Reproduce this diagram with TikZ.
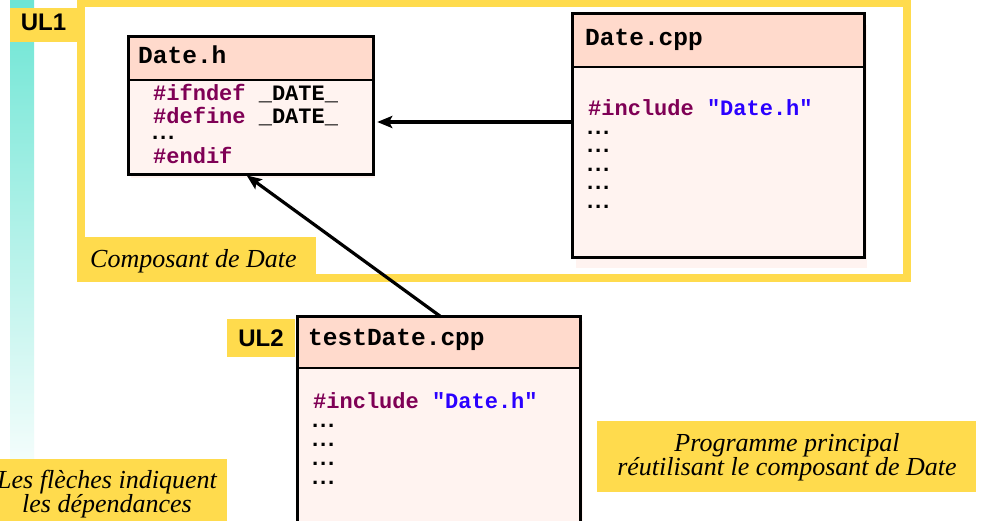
\documentclass[tikz,border=0pt]{standalone}
\usepackage{fontspec}
\setmainfont{Liberation Serif}
\newfontfamily\codefont{Liberation Mono}
\newfontfamily\labelfont{Liberation Sans}
\usetikzlibrary{arrows.meta}

\definecolor{ulyellow}{RGB}{255,219,77}
\definecolor{barteal}{RGB}{108,229,212}
\definecolor{headfill}{RGB}{255,218,204}
\definecolor{bodyfill}{RGB}{255,243,240}
\definecolor{keyword}{RGB}{127,0,85}
\definecolor{strcol}{RGB}{42,0,255}

\newcommand{\kw}[1]{\textcolor{keyword}{#1}}
\newcommand{\cstr}[1]{\textcolor{strcol}{#1}}
% tight three-dot ellipsis in the code font
\newcommand{\codedots}{\kern-4.5pt.\kern-5.2pt.\kern-5.2pt.}

% file box: name, x1, y1, x2, y2, y of header rule, shadow dx, shadow dy
\newcommand{\filebox}[8]{%
  \fill[bodyfill] (#2+#7,#3+#8) rectangle (#4+#7,#5+#8);
  \node[inner sep=0pt, fill=bodyfill, minimum width={(#4-#2)*1pt},
        minimum height={(#5-#3)*1pt}] (#1) at ({(#2+#4)/2},{(#3+#5)/2}) {};
  \coordinate (#1sep) at (0,#6);
  \fill[headfill] (#1.north west) rectangle (#1.east |- #1sep);
  \draw[line width=2pt] (#1.west |- #1sep) -- (#1.east |- #1sep);
  \draw[line width=3pt] (#1.north west) rectangle (#1.south east);
}

\begin{document}
\begin{tikzpicture}[x=1pt,y=-1pt,
  code/.style={font=\codefont\bfseries\fontsize{22}{22}\selectfont, anchor=base west, inner sep=0pt},
  filetitle/.style={font=\codefont\bfseries\fontsize{24.5}{24.5}\selectfont, anchor=base west, inner sep=0pt},
  ullabel/.style={font=\labelfont\bfseries\fontsize{24}{24}\selectfont, anchor=base, inner sep=0pt},
  note/.style={font=\itshape\fontsize{26}{24}\selectfont, inner sep=0pt, align=center},
  tag/.style={fill=ulyellow, inner sep=0pt},
  dep/.style={line width=3.2pt, -{Stealth[length=15pt,width=12pt,inset=3pt]}},
]
\useasboundingbox (0,0) rectangle (984,520);
\clip (0,0) rectangle (984,520);
\fill[white] (0,0) rectangle (984,520);

% fading side bar
\shade[top color=barteal, bottom color=barteal!6] (10,-2) rectangle (34,470);

% unit UL1 frame
\draw[ulyellow, line width=8pt] (81,3) rectangle (907,278);
\node[tag, minimum width=67pt, minimum height=34pt] (ul1box) at (43.5,25) {};
\node[ullabel] (ul1) at (43.5,30) {UL1};
\node[tag, anchor=north west, minimum width=239pt, minimum height=45pt] (compbox) at (77,237) {};
\node[note, anchor=base west] (comp) at (90,267) {Composant de Date};

% Date.h
\filebox{dateh}{129}{37}{373}{174}{80}{2}{4}
\node[filetitle] (dateht) at (138,63) {Date.h};
\node[code] (dateh1) at (153,100) {\kw{\#ifndef} \_DATE\_};
\node[code] (dateh2) at (153,123) {\kw{\#define} \_DATE\_};
\node[code] (dateh3) at (153,139) {\codedots};
\node[code] (dateh4) at (153,163) {\kw{\#endif}};

% Date.cpp
\filebox{datecpp}{573}{14}{864}{257}{67}{3}{11}
\node[filetitle] (datecppt) at (585,45) {Date.cpp};
\node[code] (datecpp1) at (588,115) {\kw{\#include} \cstr{"Date.h"}};
\node[code] (datecpp2) at (588,134) {\codedots};
\node[code] (datecpp3) at (588,152) {\codedots};
\node[code] (datecpp4) at (588,171) {\codedots};
\node[code] (datecpp5) at (588,189) {\codedots};
\node[code] (datecpp6) at (588,208) {\codedots};

% testDate.cpp
\filebox{testdate}{298}{317}{580}{540}{368}{3}{4}
\node[filetitle] (testdatet) at (308,345) {testDate.cpp};
\node[code] (testdate1) at (313,408) {\kw{\#include} \cstr{"Date.h"}};
\node[code] (testdate2) at (313,427) {\codedots};
\node[code] (testdate3) at (313,446) {\codedots};
\node[code] (testdate4) at (313,465) {\codedots};
\node[code] (testdate5) at (313,484) {\codedots};
\node[tag, minimum width=68pt, minimum height=38pt] (ul2box) at (261,338) {};
\node[ullabel] (ul2) at (261,346) {UL2};

% notes
\node[tag, minimum width=379pt, minimum height=71pt] (progbox) at (786.5,456.5) {};
\node[note] (prog) at (787,457) {Programme principal\\réutilisant le composant de Date};
\node[tag, minimum width=227pt, minimum height=66pt] (legbox) at (113.5,492) {};
\node[note] (leg) at (107,494) {Les flèches indiquent\\les dépendances};

% dependencies
\draw[dep, shorten >=4pt] ([yshift=13.5pt]datecpp.west) -- ([yshift=-16.5pt]dateh.east);
\draw[dep, shorten >=2pt] ([xshift=2pt]testdate.north) -- ([xshift=-6pt]dateh.south);
\end{tikzpicture}
\end{document}
